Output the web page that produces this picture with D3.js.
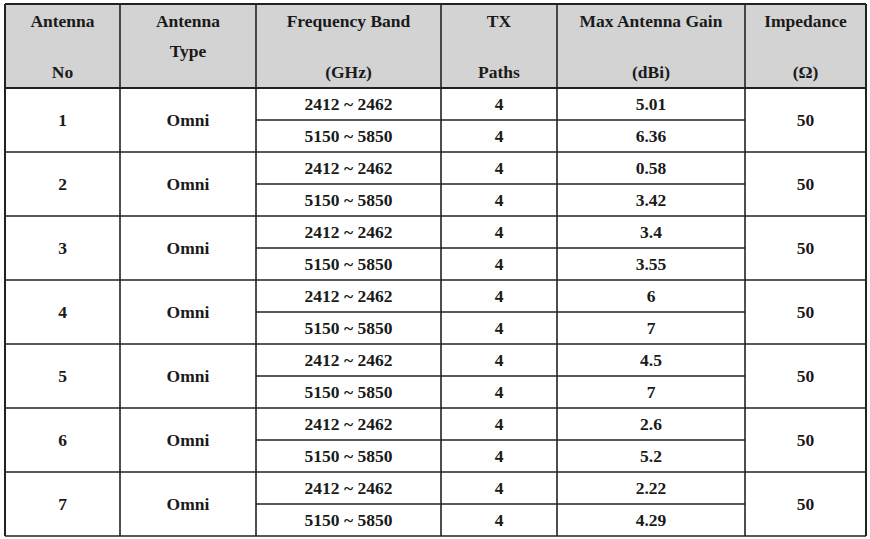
<!DOCTYPE html>
<html><head><meta charset="utf-8">
<script src="https://cdn.jsdelivr.net/npm/d3@7"></script>
<style>body{margin:0;background:#fff}</style></head>
<body><svg id="c" width="870" height="539"></svg>
<script>
const antennaNo = [1,2,3,4,5,6,7];
const antennaType = ["Omni","Omni","Omni","Omni","Omni","Omni","Omni"];
const bands = ["2412 ~ 2462","5150 ~ 5850"];
const txPaths = [[4,4],[4,4],[4,4],[4,4],[4,4],[4,4],[4,4]];
const gains = [["5.01","6.36"],["0.58","3.42"],["3.4","3.55"],["6","7"],["4.5","7"],["2.6","5.2"],["2.22","4.29"]];
const impedance = [50,50,50,50,50,50,50];
const headers = [["Antenna","","No"],["Antenna","Type",""],["Frequency Band","","(GHz)"],["TX","","Paths"],["Max Antenna Gain","","(dBi)"],["Impedance","","(Ω)"]];

const svg = d3.select("#c");
const colEdges = [5,120,256,441,557,745,866];
const tableTop = 4, headBottom = 88, rowH = 32;
const x = i => colEdges[i], cx = i => (colEdges[i]+colEdges[i+1])/2;
const y = d3.scaleLinear().domain([0,14]).range([headBottom, headBottom+14*rowH]);
const font = "'Liberation Serif','Times New Roman',serif";
const txt = (X,Y,s) => svg.append("text").attr("x",X).attr("y",Y).attr("text-anchor","middle")
  .attr("dominant-baseline","central").attr("font-family",font).attr("font-weight","bold")
  .attr("font-size",17.5).attr("fill","#1a1a1a").text(s);

svg.append("rect").attr("x",x(0)).attr("y",tableTop).attr("width",x(6)-x(0)).attr("height",headBottom-tableTop).attr("fill","#d3d3d3");
headers.forEach((h,i)=>{
  if(h[0]) txt(cx(i),21,h[0]);
  if(h[1]) txt(cx(i),51,h[1]);
  if(h[2]) txt(cx(i),72,h[2]);
});
const line=(x1,y1,x2,y2,w)=>svg.append("line").attr("x1",x1).attr("y1",y1).attr("x2",x2).attr("y2",y2).attr("stroke","#222").attr("stroke-width",w||1.6);
antennaNo.forEach((n,i)=>{
  const ym=y(2*i+1), y1=y(2*i+2);
  txt(cx(0),ym,n); txt(cx(1),ym,antennaType[i]); txt(cx(5),ym,impedance[i]);
  [0,1].forEach(k=>{
    const yc=(y(2*i+k)+y(2*i+k+1))/2;
    txt(cx(2),yc,bands[k]); txt(cx(3),yc,txPaths[i][k]); txt(cx(4),yc,gains[i][k]);
  });
  line(x(2),ym,x(5),ym);
  line(x(0),y1,x(6),y1);
});
line(x(0),tableTop,x(6),tableTop,2); line(x(0),headBottom,x(6),headBottom,2);
colEdges.forEach(e=>line(e,tableTop,e,y(14),e===5||e===866?2:1.6));
</script></body></html>
